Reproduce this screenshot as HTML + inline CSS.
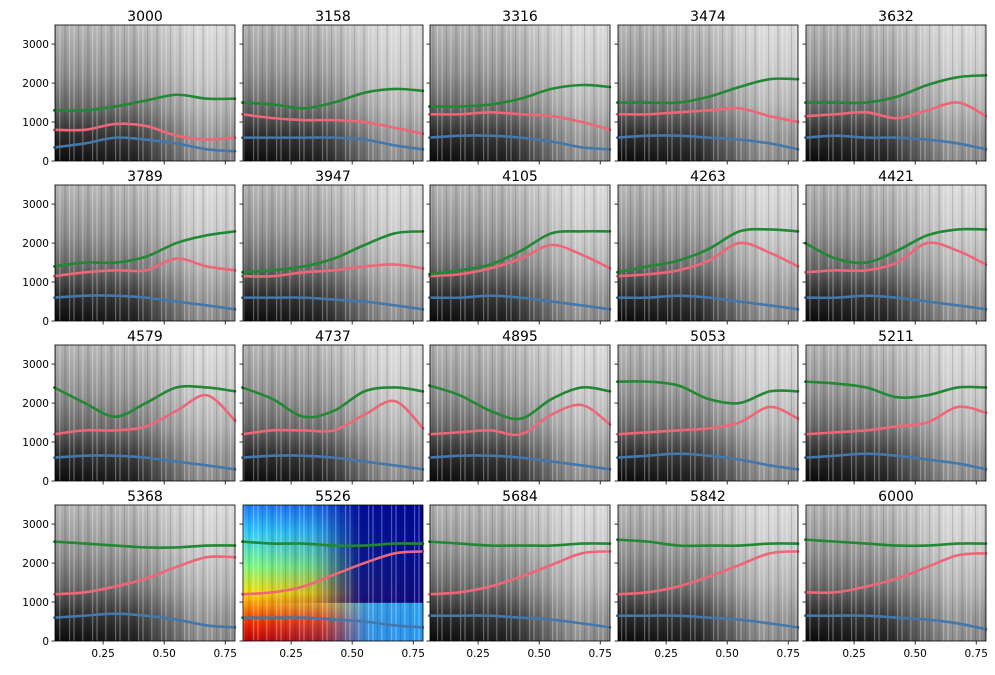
<!DOCTYPE html>
<html><head><meta charset="utf-8">
<style>
html,body{margin:0;padding:0;background:#fff;}
svg{display:block;font-family:"DejaVu Sans","Liberation Sans",sans-serif;}
</style></head>
<body>
<svg id="fig" width="995" height="675" viewBox="0 0 995 675" xmlns="http://www.w3.org/2000/svg">
<defs>
<linearGradient id="gv" x1="0" y1="0" x2="0" y2="1">
<stop offset="0" stop-color="#b4b4b4"/><stop offset="0.35" stop-color="#909090"/><stop offset="0.6" stop-color="#666"/><stop offset="0.8" stop-color="#2c2c2c"/><stop offset="1" stop-color="#080808"/>
</linearGradient>
<linearGradient id="gh" x1="0" y1="0" x2="1" y2="0">
<stop offset="0" stop-color="#fff" stop-opacity="0"/><stop offset="0.45" stop-color="#fff" stop-opacity="0.1"/><stop offset="0.8" stop-color="#fff" stop-opacity="0.55"/><stop offset="1" stop-color="#fff" stop-opacity="0.5"/>
</linearGradient>
<linearGradient id="jv" x1="0" y1="0" x2="0" y2="1">
<stop offset="0" stop-color="#2080ff"/><stop offset="0.2" stop-color="#30d0ff"/><stop offset="0.45" stop-color="#80ff80"/><stop offset="0.65" stop-color="#ffe000"/><stop offset="0.85" stop-color="#ff3000"/><stop offset="1" stop-color="#c00000"/>
</linearGradient>
<linearGradient id="jh" x1="0" y1="0" x2="1" y2="0">
<stop offset="0" stop-color="#00008c" stop-opacity="0"/><stop offset="0.4" stop-color="#00008c" stop-opacity="0.2"/><stop offset="0.65" stop-color="#00008c" stop-opacity="0.9"/><stop offset="1" stop-color="#00008c" stop-opacity="0.95"/>
</linearGradient>
<linearGradient id="jb" x1="0" y1="0" x2="1" y2="0">
<stop offset="0" stop-color="#20a0ff" stop-opacity="0"/><stop offset="0.45" stop-color="#20a0ff" stop-opacity="0.2"/><stop offset="0.7" stop-color="#20a0ff" stop-opacity="0.9"/><stop offset="1" stop-color="#20a0ff" stop-opacity="0.95"/>
</linearGradient>
<pattern id="stripes" width="23" height="10" patternUnits="userSpaceOnUse">
<rect x="0" y="0" width="1.2" height="10" fill="#fff" opacity="0.3"/>
<rect x="4" y="0" width="2" height="10" fill="#fff" opacity="0.2"/>
<rect x="9" y="0" width="1" height="10" fill="#000" opacity="0.15"/>
<rect x="13" y="0" width="1.5" height="10" fill="#fff" opacity="0.25"/>
<rect x="18" y="0" width="2.5" height="10" fill="#000" opacity="0.1"/>
</pattern>
</defs>
</svg>
<script>
const titles=[3000,3158,3316,3474,3632,3789,3947,4105,4263,4421,4579,4737,4895,5053,5211,5368,5526,5684,5842,6000];
const xs=[0.05,0.175,0.3,0.425,0.55,0.675,0.79];
const f1=[
[350,450,600,550,450,300,250],[600,600,600,600,550,400,300],[600,650,650,600,500,350,300],[600,650,650,600,550,450,300],[600,650,600,600,550,450,300],
[600,650,650,600,500,400,300],[600,600,600,550,500,400,300],[600,600,650,600,500,400,300],[600,600,650,600,500,400,300],[600,600,650,600,500,400,300],
[600,650,650,600,500,400,300],[600,650,650,600,500,400,300],[600,650,650,600,500,400,300],[600,650,700,650,550,400,300],[600,650,700,650,550,450,300],
[600,650,700,650,550,400,350],[600,600,600,550,500,400,350],[650,650,650,600,550,450,350],[650,650,650,600,550,450,350],[650,650,650,600,550,450,300]];
const f2=[
[800,800,950,900,650,550,600],[1200,1100,1050,1050,1000,850,700],[1200,1200,1250,1200,1150,1000,800],[1200,1200,1250,1300,1350,1150,1000],[1150,1200,1250,1100,1300,1500,1150],
[1150,1250,1300,1300,1600,1400,1300],[1150,1150,1250,1300,1400,1450,1350],[1150,1200,1350,1600,1950,1700,1350],[1150,1200,1300,1550,2000,1750,1400],[1250,1300,1300,1500,2000,1800,1450],
[1200,1300,1300,1400,1800,2200,1550],[1200,1300,1300,1300,1700,2050,1350],[1200,1250,1300,1200,1700,1950,1450],[1200,1250,1300,1350,1500,1900,1600],[1200,1250,1300,1400,1500,1900,1750],
[1200,1250,1400,1600,1900,2150,2150],[1200,1250,1400,1700,2000,2250,2300],[1200,1250,1400,1650,1950,2250,2300],[1200,1250,1400,1650,1950,2250,2300],[1250,1250,1400,1600,1900,2200,2250]];
const f3=[
[1300,1300,1400,1550,1700,1600,1600],[1500,1450,1350,1500,1750,1850,1800],[1400,1400,1450,1600,1850,1950,1900],[1500,1500,1500,1650,1900,2100,2100],[1500,1500,1500,1650,1950,2150,2200],
[1400,1500,1500,1650,2000,2200,2300],[1250,1300,1400,1600,1950,2250,2300],[1200,1300,1450,1800,2250,2300,2300],[1250,1400,1550,1850,2300,2350,2300],[2000,1600,1500,1800,2200,2350,2350],
[2400,2000,1650,2000,2400,2400,2300],[2400,2100,1650,1800,2300,2400,2300],[2450,2200,1800,1600,2100,2400,2300],[2550,2550,2450,2100,2000,2300,2300],[2550,2500,2400,2150,2200,2400,2400],
[2550,2500,2450,2400,2400,2450,2450],[2550,2500,2500,2450,2450,2500,2500],[2550,2500,2450,2450,2450,2500,2500],[2600,2550,2450,2450,2450,2500,2500],[2600,2550,2500,2450,2450,2500,2500]];
const yTicks=[0,1000,2000,3000];
const xTicks=[0.25,0.5,0.75];
const xTickLabels=["0.25","0.50","0.75"];
const colors=["#4477aa","#ee6677","#228833"];

const NS="http://www.w3.org/2000/svg";
const svg=document.getElementById('fig');
const lefts=[55,243,430,618,806], tops=[25,185,345,505], W=180, H=136;
const XMIN=0.053,XMAX=0.79,YMIN=0,YMAX=3490;
function mk(tag,attrs,parent){const e=document.createElementNS(NS,tag);for(const k in attrs)e.setAttribute(k,attrs[k]);(parent||svg).appendChild(e);return e;}
function path(pts){let d="M"+pts[0][0]+","+pts[0][1];
 for(let i=0;i<pts.length-1;i++){const p0=pts[i-1]||pts[i],p1=pts[i],p2=pts[i+1],p3=pts[i+2]||p2;
  d+=" C"+(p1[0]+(p2[0]-p0[0])/6)+","+(p1[1]+(p2[1]-p0[1])/6)+" "+(p2[0]-(p3[0]-p1[0])/6)+","+(p2[1]-(p3[1]-p1[1])/6)+" "+p2[0]+","+p2[1];}
 return d;}
titles.forEach((t,i)=>{
 const r=Math.floor(i/5),c=i%5,L=lefts[c],T=tops[r];
 const sx=v=>L+(v-XMIN)/(XMAX-XMIN)*W, sy=v=>T+H-(v-YMIN)/(YMAX-YMIN)*H;
 const g=mk('g',{});
 
 
 const jet=(t===5526);
 const bg=mk('rect',{x:L,y:T,width:W,height:H,fill:jet?'url(#jv)':'url(#gv)'},g);
 
 
 if(jet){
  mk('rect',{x:L,y:T,width:W,height:H*0.72,fill:'url(#jh)'},g);
  mk('rect',{x:L,y:T+H*0.72,width:W,height:H*0.28,fill:'url(#jb)'},g);
 } else mk('rect',{x:L,y:T,width:W,height:H,fill:'url(#gh)'},g);
 mk('rect',{x:L,y:T,width:W,height:H,fill:'url(#stripes)'},g);
 [f1,f2,f3].forEach((f,k)=>{
  const pts=xs.map((x,j)=>[sx(x),sy(f[i][j])]);
  const p=mk('path',{d:path(pts),fill:'none',stroke:colors[k],'stroke-width':2.6,'stroke-linecap':'round'},g);
  
  
 });
 mk('rect',{x:L,y:T,width:W,height:H,fill:'none',stroke:'#000','stroke-width':0.8},g);
 const tt=mk('text',{x:L+W/2,y:T-4,'text-anchor':'middle','font-size':14,fill:'#000'},g);
 tt.textContent=t;
 
 
 yTicks.forEach(v=>{const y=sy(v);mk('line',{x1:L-3.5,x2:L,y1:y,y2:y,stroke:'#000','stroke-width':0.8},g);
  if(c===0){const tx=mk('text',{x:L-6,y:y+4,'text-anchor':'end','font-size':10.5,fill:'#000'},g);tx.textContent=v;
   
   }});
 xTicks.forEach((v,j)=>{const x=sx(v);mk('line',{x1:x,x2:x,y1:T+H,y2:T+H+3.5,stroke:'#000','stroke-width':0.8},g);
  if(r===3){const tx=mk('text',{x:x,y:T+H+16,'text-anchor':'middle','font-size':10.5,fill:'#000'},g);tx.textContent=xTickLabels[j];
   
   }});
});
</script>
</body></html>
